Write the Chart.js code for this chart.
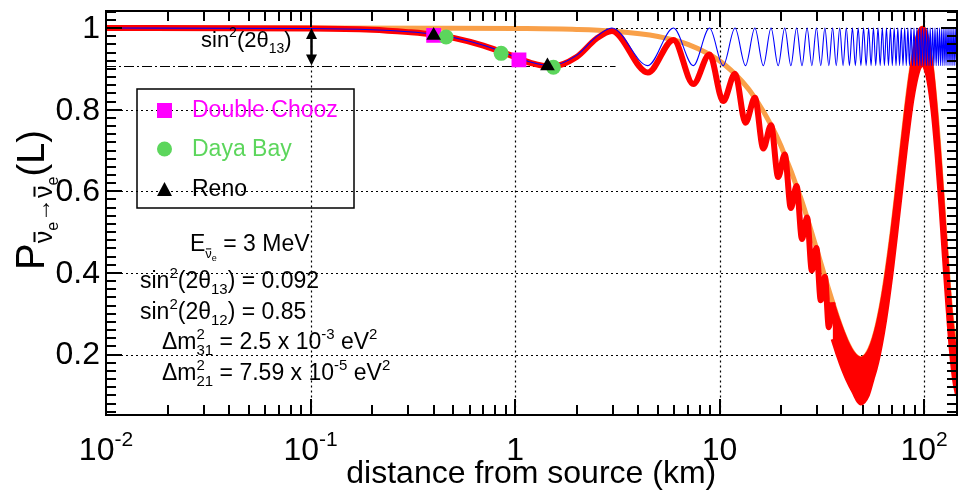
<!DOCTYPE html>
<html><head><meta charset="utf-8"><title>reactor antineutrino survival probability</title>
<script src="https://cdn.jsdelivr.net/npm/chart.js"></script>
<style>html,body{margin:0;background:#fff}#wrap{width:967px;height:499px;position:relative}</style>
</head><body><div id="wrap"><canvas id="c"></canvas></div>
<script>
/* survival probability, only theta13 term (thin blue) */
const blueKm=[0.01,0.1,0.2,0.3,0.4,0.5,0.7,1.0,1.2,1.49,2.0,2.5,2.975,
4.46,5.95,7.44,8.93,10.41,11.9,13.39,14.88,16.36,17.85,
19.34,20.83,22.31,23.8,25.29,26.78,28.26,29.75,31.24,32.73,
34.21,35.7,37.19,38.68,40.16,41.65,43.14,44.63,46.11,47.6,
49.09,50.58,52.06,53.55,55.04,56.53,58.01,59.5,60.99,62.48,
63.96,65.45,66.94,68.43,69.91,71.4,72.89,74.38,75.86,77.35,
78.84,80.33,81.81,83.3,84.79,86.28,87.76,89.25,90.74,92.23,
93.71,95.2,96.69,98.18,99.66,101.15,102.64,104.13,105.61,107.1,
108.59,110.08,111.56,113.05,114.54,116.03,117.51,119,120.49,121.98,
123.46,124.95,126.44,127.93,129.41,130.9,132.39,133.88,135.36,136.85,
138.34,139.83,141.31,142.8,144.29,145.78];
const blueP=[1,0.999,0.996,0.991,0.985,0.977,0.958,0.930,0.916,0.908,0.933,0.979,1,
0.908,1,0.908,1,0.908,1,0.908,1,0.908,1,
0.908,1,0.908,1,0.908,1,0.908,1,0.908,1,
0.908,1,0.908,1,0.908,1,0.908,1,0.908,1,
0.908,1,0.908,1,0.908,1,0.908,1,0.908,1,
0.908,1,0.908,1,0.908,1,0.908,1,0.908,1,
0.908,1,0.908,1,0.908,1,0.908,1,0.908,1,
0.908,1,0.908,1,0.908,1,0.908,1,0.908,1,
0.908,1,0.908,1,0.908,1,0.908,1,0.908,1,
0.908,1,0.908,1,0.908,1,0.908,1,0.908,1,
0.908,1,0.908,1,0.908,1];

/* full three flavour curve (thick red), resolved part */
const redKm=[0.01,0.1,0.2,0.3,0.4,0.5,0.7,1.0,1.2,1.49,2.0,2.5,2.975,4.46,5.95,7.44,8.93,10.41,11.9,13.39,14.88,16.36,17.85,19.34,20.83,22.31,23.8,25.29,26.78,28.26,29.75,31.24,32.73,34.21,35.7];
const redP=[1,0.999,0.996,0.990,0.984,0.976,0.957,0.929,0.914,0.905,0.929,0.974,0.993,0.891,0.971,0.863,0.935,0.821,0.888,0.768,0.829,0.705,0.762,0.635,0.690,0.559,0.613,0.483,0.536,0.406,0.461,0.333,0.391,0.267,0.328];
/* fast oscillation region drawn as a band */
const bandKm=[35.7,38,40,42,45,49,53,56,58,60,63,66,70,74,78,82,85,88,92,95,98,101,105,110,115,120,125,130,135,140,144.5];
const bandHi=[0.328,0.286,0.256,0.230,0.203,0.190,0.203,0.230,0.256,0.287,0.343,0.408,0.505,0.609,0.710,0.806,0.868,0.920,0.970,0.993,1.0,0.993,0.960,0.886,0.780,0.658,0.527,0.407,0.303,0.229,0.193];
const bandLo=[0.238,0.196,0.165,0.140,0.110,0.080,0.100,0.140,0.166,0.197,0.253,0.318,0.415,0.519,0.620,0.716,0.778,0.830,0.880,0.903,0.910,0.903,0.870,0.796,0.690,0.568,0.437,0.317,0.213,0.139,0.103];

/* solar term only (orange) */
const orangeKm=[0.01,0.1,0.5,1,2,3,5,7,10,13,15,18,20,25,30,35,40,45,49,53,58,63,70,78,85,92,98,105,115,125,135,146];
const orangeP=[1,1,0.9998,0.999,0.9967,0.9925,0.9794,0.9599,0.9196,0.8672,0.8267,0.7589,0.7103,0.582,0.4546,0.3423,0.2555,0.2032,0.19,0.2032,0.2558,0.343,0.505,0.7103,0.868,0.970,1.0,0.960,0.780,0.527,0.3034,0.191];

/* experiments */
const dcKm=[0.40,1.045], dcP=[0.982,0.922];
const dbKm=[0.46,0.855,1.54], dbP=[0.978,0.938,0.904];
const renoKm=[0.40,1.44], renoP=[0.982,0.907];

const xDecades=[0.01,0.1,1,10,100];
const xMinor=[2,3,4,5,6,7,8,9];
const xLabels=[['10','-2'],['10','-1'],['1',''],['10',''],['10','2']];
const yTicks=[0.2,0.4,0.6,0.8,1];
const yLabels=['0.2','0.4','0.6','0.8','1'];
const theta13Level=0.908, dashEndKm=3.1, arrowKm=0.1;

const FONT='"Liberation Sans", Arial, Helvetica, sans-serif';
function f(s){return s+'px '+FONT;}
function pts(km,p){return km.map((v,i)=>({x:v,y:p[i]}));}

function partsWidth(ctx,parts){let w=0;parts.forEach(p=>{ctx.font=f(p.s);if(!p.keep)w+=ctx.measureText(p.t).width;});return w;}
function drawParts(ctx,x,y,parts){
parts.forEach(p=>{
ctx.font=f(p.s);
let w=ctx.measureText(p.t).width,yy=y+(p.dy||0);
ctx.fillText(p.t,x,yy);
if(p.bar)ctx.fillRect(x+w*0.1,yy-p.s*0.74,w*0.8,Math.max(1,p.s*0.08));
if(!p.keep)x+=w;
});
}
function seg(ctx,x0,y0,x1,y1){ctx.beginPath();ctx.moveTo(x0,y0);ctx.lineTo(x1,y1);ctx.stroke();}

const deco={id:'deco',
beforeDatasetsDraw(chart){
const {ctx,chartArea:a,scales:{x,y}}=chart;
ctx.save();
ctx.strokeStyle='#000';ctx.lineWidth=1.2;ctx.setLineDash([2,3]);
xDecades.slice(1).forEach(v=>{let px=Math.round(x.getPixelForValue(v))+0.5;seg(ctx,px,a.top,px,a.bottom);});
yTicks.forEach(v=>{let py=Math.round(y.getPixelForValue(v))+0.5;seg(ctx,a.left,py,a.right,py);});
ctx.setLineDash([10,3,2,3]);
let py=Math.round(y.getPixelForValue(theta13Level))+0.5;
seg(ctx,a.left,py,x.getPixelForValue(dashEndKm),py);
ctx.restore();
},
afterDatasetsDraw(chart){
const {ctx,chartArea:a,scales:{x,y}}=chart;
ctx.save();
ctx.setLineDash([]);
ctx.fillStyle='#000';ctx.strokeStyle='#000';
/* sin^2(2theta13) arrow */
let ax=Math.round(x.getPixelForValue(arrowKm))+0.5,y1=y.getPixelForValue(1),y2=y.getPixelForValue(theta13Level);
ctx.lineWidth=2.5;seg(ctx,ax,y1+8,ax,y2-8);
ctx.beginPath();ctx.moveTo(ax,y1);ctx.lineTo(ax-5.5,y1+11);ctx.lineTo(ax+5.5,y1+11);ctx.closePath();ctx.fill();
ctx.beginPath();ctx.moveTo(ax,y2);ctx.lineTo(ax-5.5,y2-11);ctx.lineTo(ax+5.5,y2-11);ctx.closePath();ctx.fill();
drawParts(ctx,201,47,[{t:'sin',s:22},{t:'2',s:14,dy:-10},{t:'(2θ',s:22},{t:'13',s:14,dy:6},{t:')',s:22}]);
/* parameters */
drawParts(ctx,190,251,[{t:'E',s:23},{t:'ν',s:13,dy:7,bar:true},{t:'e',s:9,dy:10},{t:' = 3 MeV',s:23}]);
drawParts(ctx,140,288,[{t:'sin',s:23},{t:'2',s:15,dy:-10},{t:'(2θ',s:23},{t:'13',s:15,dy:6},{t:') = 0.092',s:23}]);
drawParts(ctx,140,319,[{t:'sin',s:23},{t:'2',s:15,dy:-10},{t:'(2θ',s:23},{t:'12',s:15,dy:6},{t:') = 0.85',s:23}]);
drawParts(ctx,162,349,[{t:'Δm',s:23},{t:'2',s:15,dy:-10,keep:true},{t:'31',s:15,dy:6},{t:' = 2.5 x 10',s:23},{t:'-3',s:15,dy:-10},{t:' eV',s:23},{t:'2',s:15,dy:-10}]);
drawParts(ctx,162,380,[{t:'Δm',s:23},{t:'2',s:15,dy:-10,keep:true},{t:'21',s:15,dy:6},{t:' = 7.59 x 10',s:23},{t:'-5',s:15,dy:-10},{t:' eV',s:23},{t:'2',s:15,dy:-10}]);
/* legend */
ctx.lineWidth=1.5;ctx.strokeRect(137,89,217,119);
ctx.fillStyle='#ff00ff';ctx.fillRect(157,103,15,15);
ctx.fillStyle='#5cd65c';ctx.beginPath();ctx.arc(164.5,149,7.5,0,Math.PI*2);ctx.fill();
ctx.fillStyle='#000';ctx.beginPath();ctx.moveTo(164.5,182);ctx.lineTo(157,196);ctx.lineTo(172,196);ctx.closePath();ctx.fill();
ctx.font=f(23);ctx.textBaseline='middle';
ctx.fillStyle='#ff00ff';ctx.fillText('Double Chooz',192,111);
ctx.fillStyle='#5cd65c';ctx.fillText('Daya Bay',192,150);
ctx.fillStyle='#000';ctx.fillText('Reno',192,190);
ctx.restore();
},
afterDraw(chart){
const {ctx,chartArea:a,scales:{x,y}}=chart;
const L=Math.round(a.left),R=Math.round(a.right),T=Math.round(a.top),B=Math.round(a.bottom);
ctx.save();
ctx.fillStyle='#000';ctx.strokeStyle='#000';
ctx.lineWidth=2;ctx.strokeRect(L,T,R-L,B-T);
/* inner ticks on all four sides */
xDecades.forEach(d=>{
let px=Math.round(x.getPixelForValue(d));
ctx.fillRect(px-1,B-16,2,16);ctx.fillRect(px-1,T,2,16);
xMinor.forEach(m=>{
if(d*m>=144)return;
let qx=Math.round(x.getPixelForValue(d*m));
ctx.fillRect(qx-1,B-10,2,10);ctx.fillRect(qx-1,T,2,10);
});
});
for(let i=3;i<=52;i++){
let py=Math.round(y.getPixelForValue(i*0.02)),len=(i%10==0)?16:10;
ctx.fillRect(L,py-1,len,2);ctx.fillRect(R-len,py-1,len,2);
}
/* y tick labels */
ctx.font=f(32);ctx.textAlign='right';ctx.textBaseline='middle';
yTicks.forEach((v,i)=>ctx.fillText(yLabels[i],a.left-6,y.getPixelForValue(v)+1));
/* x tick labels */
ctx.textAlign='left';ctx.textBaseline='alphabetic';
xDecades.forEach((v,i)=>{
let parts=[{t:xLabels[i][0],s:32}];
if(xLabels[i][1])parts.push({t:xLabels[i][1],s:21,dy:-14});
let w=partsWidth(ctx,parts);
drawParts(ctx,x.getPixelForValue(v)-w/2,a.bottom+45,parts);
});
/* axis titles */
ctx.font=f(32);ctx.textAlign='center';
ctx.fillText('distance from source (km)',(a.left+a.right)/2,a.bottom+68);
ctx.textAlign='left';
ctx.translate(44,270);ctx.rotate(-Math.PI/2);
drawParts(ctx,0,0,[{t:'P',s:40},{t:'ν',s:25,dy:8,bar:true},{t:'e',s:16,dy:14},{t:'→',s:24,dy:6},{t:'ν',s:25,dy:8,bar:true},{t:'e',s:16,dy:14},{t:'(L)',s:38}]);
ctx.restore();
}
};

const curve={pointRadius:0,fill:false,cubicInterpolationMode:'monotone'};
new Chart(document.getElementById('c'),{
type:'line',
data:{datasets:[
{label:'Reno',data:pts(renoKm,renoP),showLine:false,pointStyle:'triangle',pointRadius:8.5,pointBackgroundColor:'#000',pointBorderWidth:0,order:0},
{label:'Daya Bay',data:pts(dbKm,dbP),showLine:false,pointStyle:'circle',pointRadius:7.5,pointBackgroundColor:'#5cd65c',pointBorderWidth:0,order:1},
{label:'Double Chooz',data:pts(dcKm,dcP),showLine:false,pointStyle:'rect',pointRadius:10.5,pointBackgroundColor:'#ff00ff',pointBorderWidth:0,order:2},
Object.assign({label:'theta13 only',data:pts(blueKm,blueP),borderColor:'#0000ff',borderWidth:1.1,order:3},curve),
Object.assign({label:'full',data:pts(redKm,redP),borderColor:'#ff0000',borderWidth:6,order:4},curve),
Object.assign({label:'full hi',data:pts(bandKm,bandHi),borderColor:'#ff0000',borderWidth:4,order:5},curve),
Object.assign({label:'full lo',data:pts(bandKm,bandLo),borderColor:'#ff0000',borderWidth:4,order:5},curve,{fill:'-1',backgroundColor:'#ff0000'}),
Object.assign({label:'solar',data:pts(orangeKm,orangeP),borderColor:'#f9a049',borderWidth:5,order:7},curve)
]},
options:{
responsive:true,maintainAspectRatio:false,animation:false,devicePixelRatio:1,
layout:{padding:{left:106,right:0,top:2,bottom:84}},
scales:{
x:{type:'logarithmic',min:0.01,max:144,display:false},
y:{type:'linear',min:0.052,max:1.043,display:false}
},
plugins:{legend:{display:false},tooltip:{enabled:false}}
},
plugins:[deco]
});
</script></body></html>
